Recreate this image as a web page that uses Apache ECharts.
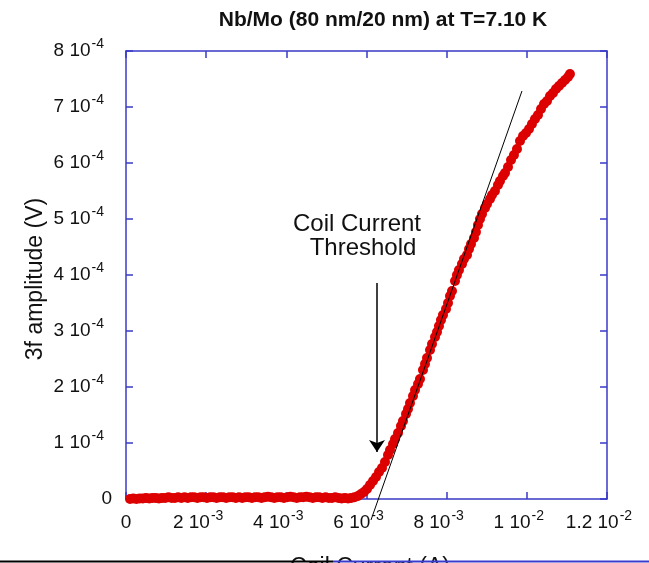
<!DOCTYPE html>
<html><head><meta charset="utf-8">
<script src="https://cdn.jsdelivr.net/npm/echarts@6/dist/echarts.min.js"></script>
<style>html,body{margin:0;padding:0;background:#fff}#c{width:649px;height:563px}</style>
</head><body><div id="c"></div>
<script>
// ---- data ----
const titleText = 'Nb/Mo (80 nm/20 nm) at T=7.10 K';
const xName = 'Coil Current (A)';
const yName = '3f amplitude (V)';
const xTicks = [0, 0.002, 0.004, 0.006, 0.008, 0.010, 0.012];
const yTicks = [0, 1e-4, 2e-4, 3e-4, 4e-4, 5e-4, 6e-4, 7e-4, 8e-4];
// coil current (A)
const currentA = [
 0.10e-3,0.18e-3,0.26e-3,0.34e-3,0.42e-3,0.50e-3,0.58e-3,0.66e-3,0.74e-3,0.82e-3,
 0.90e-3,0.98e-3,1.06e-3,1.14e-3,1.22e-3,1.30e-3,1.38e-3,1.46e-3,1.54e-3,1.62e-3,
 1.70e-3,1.78e-3,1.86e-3,1.94e-3,2.02e-3,2.10e-3,2.18e-3,2.26e-3,2.34e-3,2.42e-3,
 2.50e-3,2.58e-3,2.66e-3,2.74e-3,2.82e-3,2.90e-3,2.98e-3,3.06e-3,3.14e-3,3.22e-3,
 3.30e-3,3.38e-3,3.46e-3,3.54e-3,3.62e-3,3.70e-3,3.78e-3,3.86e-3,3.94e-3,4.02e-3,
 4.10e-3,4.18e-3,4.26e-3,4.34e-3,4.42e-3,4.50e-3,4.58e-3,4.66e-3,4.74e-3,4.82e-3,
 4.90e-3,4.98e-3,5.06e-3,5.14e-3,5.22e-3,5.30e-3,5.38e-3,5.46e-3,5.54e-3,5.62e-3,
 5.70e-3,
 5.788e-3,5.863e-3,5.937e-3,6.012e-3,6.087e-3,6.162e-3,6.237e-3,6.312e-3,6.386e-3,6.461e-3,
 6.536e-3,6.586e-3,6.661e-3,6.711e-3,6.786e-3,6.860e-3,6.910e-3,6.985e-3,7.035e-3,7.085e-3,
 7.160e-3,7.210e-3,7.285e-3,7.334e-3,7.409e-3,7.459e-3,7.509e-3,7.584e-3,7.634e-3,7.709e-3,
 7.759e-3,7.808e-3,7.858e-3,7.908e-3,7.983e-3,8.033e-3,8.083e-3,8.133e-3,8.208e-3,8.257e-3,
 8.307e-3,8.382e-3,8.432e-3,8.507e-3,8.557e-3,8.607e-3,8.682e-3,8.731e-3,8.781e-3,8.831e-3,
 8.881e-3,8.956e-3,9.006e-3,9.081e-3,9.131e-3,9.205e-3,9.280e-3,9.330e-3,9.405e-3,9.455e-3,
 9.530e-3,9.605e-3,9.679e-3,9.754e-3,9.829e-3,9.904e-3,9.979e-3,10.054e-3,10.128e-3,10.203e-3,
 10.278e-3,10.353e-3,10.428e-3,10.503e-3,10.578e-3,10.652e-3,10.727e-3,10.802e-3,10.877e-3,10.952e-3,
 11.027e-3,11.076e-3
];
// 3f amplitude (V)
const amplitudeV = [
 0.00e-4,0.01e-4,0.00e-4,0.01e-4,0.01e-4,0.02e-4,0.01e-4,0.02e-4,0.02e-4,0.01e-4,
 0.02e-4,0.02e-4,0.03e-4,0.02e-4,0.02e-4,0.03e-4,0.02e-4,0.03e-4,0.02e-4,0.03e-4,
 0.03e-4,0.02e-4,0.03e-4,0.03e-4,0.02e-4,0.03e-4,0.03e-4,0.02e-4,0.03e-4,0.03e-4,
 0.02e-4,0.03e-4,0.03e-4,0.02e-4,0.03e-4,0.02e-4,0.03e-4,0.03e-4,0.02e-4,0.03e-4,
 0.03e-4,0.02e-4,0.03e-4,0.04e-4,0.03e-4,0.02e-4,0.03e-4,0.03e-4,0.02e-4,0.03e-4,
 0.04e-4,0.03e-4,0.02e-4,0.03e-4,0.03e-4,0.04e-4,0.03e-4,0.02e-4,0.03e-4,0.03e-4,
 0.02e-4,0.03e-4,0.02e-4,0.02e-4,0.03e-4,0.02e-4,0.01e-4,0.02e-4,0.01e-4,0.02e-4,
 0.03e-4,
 0.054e-4,0.089e-4,0.125e-4,0.179e-4,0.250e-4,0.321e-4,0.393e-4,0.482e-4,0.554e-4,0.661e-4,
 0.786e-4,0.875e-4,0.982e-4,1.071e-4,1.179e-4,1.304e-4,1.393e-4,1.518e-4,1.607e-4,1.714e-4,
 1.839e-4,1.946e-4,2.054e-4,2.143e-4,2.304e-4,2.411e-4,2.518e-4,2.661e-4,2.768e-4,2.893e-4,
 2.982e-4,3.089e-4,3.196e-4,3.286e-4,3.393e-4,3.500e-4,3.625e-4,3.714e-4,3.893e-4,4.000e-4,
 4.089e-4,4.196e-4,4.286e-4,4.357e-4,4.464e-4,4.554e-4,4.661e-4,4.768e-4,4.893e-4,5.000e-4,
 5.089e-4,5.196e-4,5.268e-4,5.357e-4,5.429e-4,5.500e-4,5.607e-4,5.679e-4,5.768e-4,5.821e-4,
 5.929e-4,6.054e-4,6.143e-4,6.250e-4,6.393e-4,6.482e-4,6.536e-4,6.607e-4,6.696e-4,6.786e-4,
 6.857e-4,6.964e-4,7.054e-4,7.107e-4,7.196e-4,7.250e-4,7.321e-4,7.375e-4,7.429e-4,7.482e-4,
 7.536e-4,7.589e-4
];
// linear fit line (two end points)
const fitA = [6.112e-3, 9.879e-3];
const fitV = [-0.375e-4, 7.286e-4];
// threshold arrow (start, tip)
const arrowA = [6.262e-3, 6.262e-3];
const arrowV = [3.857e-4, 0.839e-4];
const annotLines = ['Coil Current', 'Threshold'];

// ---- chart ----
const FONT = '"Liberation Sans", Arial, Helvetica, sans-serif';
const BLUE = '#3a3ac8';
function sciRich(v, pad) {
  if (Math.abs(v) < 1e-12) return '{z|0}';
  const e = Math.floor(Math.log10(v) + 1e-9);
  const m = +(v / Math.pow(10, e)).toFixed(2);
  return '{m|' + m + ' 10}{e|' + e + '}' + (pad ? '{p|}' : '');
}
const richBase = {
  m: {fontSize: 19, fontFamily: FONT, color: '#111', lineHeight: 30, verticalAlign: 'middle'},
  e: {fontSize: 14, fontFamily: FONT, color: '#111', lineHeight: 14, verticalAlign: 'top', padding: [1, 0, 0, 1]},
  z: {fontSize: 19, fontFamily: FONT, color: '#111', lineHeight: 30, verticalAlign: 'middle'},
};
const points = currentA.map((x, i) => [x, amplitudeV[i]]);
const axisCommon = {
  type: 'value', min: 0, splitLine: {show: false},
  axisLine: {show: true, onZero: false, lineStyle: {color: BLUE, width: 1.5}},
  axisTick: {show: true, inside: true, length: 7, lineStyle: {color: BLUE, width: 1.5}},
};
const chart = echarts.init(document.getElementById('c'), null, {renderer: 'canvas'});
chart.setOption({
  backgroundColor: '#fff',
  animation: false,
  grid: {left: 126, right: 42, top: 51, bottom: 64, containLabel: false},
  xAxis: [
    Object.assign({}, axisCommon, {position: 'bottom', max: xTicks[xTicks.length - 1], interval: xTicks[1] - xTicks[0],
      axisLabel: {margin: 9, formatter: v => sciRich(v, true),
        rich: Object.assign({}, richBase, {p: {width: 16}})}}),
    Object.assign({}, axisCommon, {position: 'top', max: xTicks[xTicks.length - 1], interval: xTicks[1] - xTicks[0],
      axisLabel: {show: false}})
  ],
  yAxis: [
    Object.assign({}, axisCommon, {position: 'left', max: yTicks[yTicks.length - 1], interval: yTicks[1] - yTicks[0],
      axisLabel: {margin: 14, formatter: v => sciRich(v, true),
        rich: Object.assign({}, richBase, {p: {width: 8}})}}),
    Object.assign({}, axisCommon, {position: 'right', max: yTicks[yTicks.length - 1], interval: yTicks[1] - yTicks[0],
      axisLabel: {show: false}})
  ],
  series: [
    {type: 'scatter', data: points, symbol: 'circle', symbolSize: 10,
     itemStyle: {color: '#dd0000', opacity: 1}, z: 2,
     markLine: {silent: true, symbol: ['none', 'arrow'], symbolSize: 12,
       lineStyle: {color: '#000', width: 1.5, type: 'solid'}, label: {show: false},
       data: [[{coord: [arrowA[0], arrowV[0]]}, {coord: [arrowA[1], arrowV[1]]}]]}},
    {type: 'line', data: fitA.map((x, i) => [x, fitV[i]]), showSymbol: false, clip: false,
     lineStyle: {color: '#000', width: 1}, z: 3}
  ],
  graphic: [
    {type: 'text', x: 383, y: 20, style: {text: titleText, font: 'bold 21px ' + FONT, fill: '#111', align: 'center', verticalAlign: 'middle'}, z: 10},
    {type: 'text', x: 357, y: 224, style: {text: annotLines[0], font: '24px ' + FONT, fill: '#111', align: 'center', verticalAlign: 'middle'}},
    {type: 'text', x: 363, y: 248, style: {text: annotLines[1], font: '24px ' + FONT, fill: '#111', align: 'center', verticalAlign: 'middle'}},
    {type: 'text', x: 36, y: 279, rotation: Math.PI / 2, style: {text: yName, font: '23px ' + FONT, fill: '#111', align: 'center', verticalAlign: 'middle'}},
    {type: 'text', x: 370, y: 568, style: {text: xName, font: '23px ' + FONT, fill: '#111', align: 'center', verticalAlign: 'middle'}},
    {type: 'line', shape: {x1: 0, y1: 561.5, x2: 333, y2: 561.5}, style: {stroke: '#000', lineWidth: 2}, z: 20},
    {type: 'line', shape: {x1: 333, y1: 561.5, x2: 649, y2: 561.5}, style: {stroke: '#3a3ad0', lineWidth: 2}, z: 20}
  ]
});
</script></body></html>
